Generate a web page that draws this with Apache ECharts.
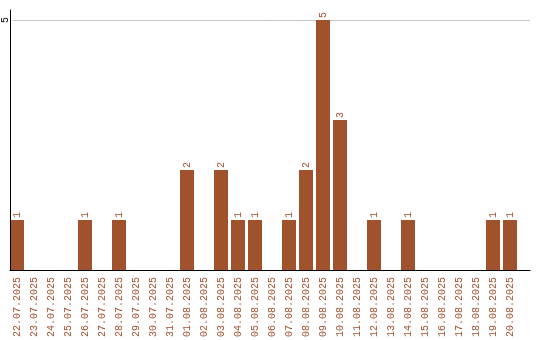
<!DOCTYPE html>
<html><head><meta charset="utf-8">
<script src="https://cdn.jsdelivr.net/npm/echarts@6/dist/echarts.min.js"></script>
<style>html,body{margin:0;padding:0;background:#fff}#c{width:540px;height:340px}</style>
</head><body><div id="c"></div>
<script>
const categories = ["22.07.2025","23.07.2025","24.07.2025","25.07.2025","26.07.2025","27.07.2025","28.07.2025","29.07.2025","30.07.2025","31.07.2025","01.08.2025","02.08.2025","03.08.2025","04.08.2025","05.08.2025","06.08.2025","07.08.2025","08.08.2025","09.08.2025","10.08.2025","11.08.2025","12.08.2025","13.08.2025","14.08.2025","15.08.2025","16.08.2025","17.08.2025","18.08.2025","19.08.2025","20.08.2025"];
const counts = [1,0,0,0,1,0,1,0,0,0,2,0,2,1,1,0,1,2,5,3,0,1,0,1,0,0,0,0,1,1];
const yTicks = [5];

const color = '#a0522d';
const font = 'Liberation Mono';
const chart = echarts.init(document.getElementById('c'), null, {renderer:'canvas'});
chart.setOption({
  animation: false,
  grid: [
    {left: 10, width: 520, top: 10, height: 260},
    {left: 8.5, width: 510, top: 10, height: 260},
    {left: 10, width: 520, top: 20, height: 250}
  ],
  xAxis: [
    {type: 'value', gridIndex: 0, min: 0, max: 1, z: 5, axisLine: {show: true, lineStyle: {color: '#000', width: 1}},
     axisTick: {show: false}, axisLabel: {show: false}, splitLine: {show: false}},
    {type: 'category', gridIndex: 1, data: categories, axisLine: {show: false}, axisTick: {show: false},
     axisLabel: {rotate: 90, interval: 0, margin: 7, color: color, fontFamily: font, fontSize: 10}},
    {type: 'value', gridIndex: 2, min: 0, max: 1, show: false}
  ],
  yAxis: [
    {type: 'value', gridIndex: 0, min: 0, max: 5.2, z: 5,
     axisLine: {show: true, lineStyle: {color: '#000', width: 1}}, axisTick: {show: false},
     axisLabel: {show: false}, splitLine: {show: false}},
    {type: 'value', gridIndex: 1, min: 0, max: 5.2, show: false},
    {type: 'value', gridIndex: 2, min: 0, max: yTicks[0], interval: yTicks[0], z: 0,
     axisLine: {show: false}, axisTick: {show: false},
     axisLabel: {rotate: 90, margin: 3, color: '#000', fontFamily: font, fontSize: 10,
       formatter: v => yTicks.includes(v) ? String(v) : ''},
     splitLine: {show: true, lineStyle: {color: '#c8c8c8', width: 1}}}
  ],
  series: [{
    type: 'bar', xAxisIndex: 1, yAxisIndex: 1, data: counts, barWidth: 14,
    itemStyle: {color: color},
    label: {show: true, position: 'top', rotate: 90, align: 'left', verticalAlign: 'middle', distance: 2,
      color: color, fontFamily: font, fontSize: 10, formatter: p => p.value ? String(p.value) : ''}
  }]
});
</script></body></html>
